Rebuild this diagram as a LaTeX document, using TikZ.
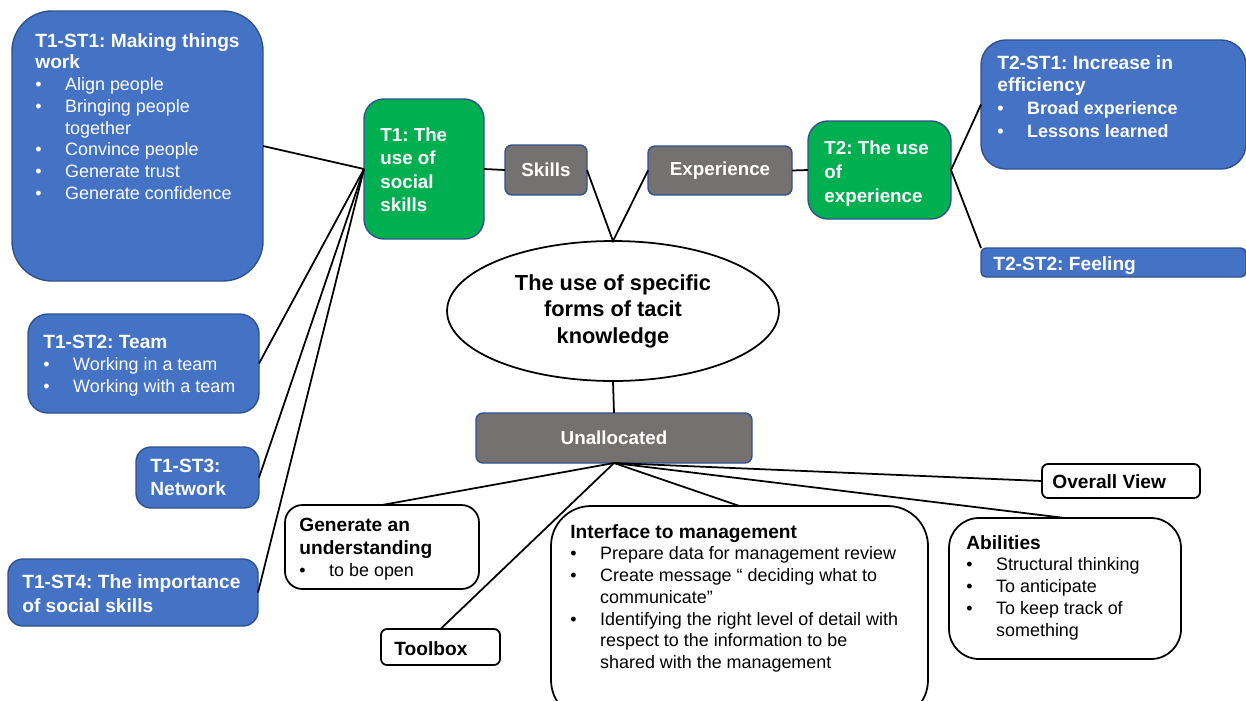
\documentclass[tikz,border=0pt]{standalone}
\usepackage{fontspec}
\setmainfont{Liberation Sans}
\usetikzlibrary{fit,shapes.geometric}
\definecolor{boxblue}{HTML}{4472C4}
\definecolor{edgeblue}{HTML}{2F528F}
\definecolor{boxgreen}{HTML}{00B050}
\definecolor{boxgrey}{HTML}{767171}
\newcommand{\bul}{\makebox[17pt][l]{\textbullet}}
\newcommand{\ind}{\hspace*{17pt}}
\newcommand{\hd}[1]{{\fontsize{10.9pt}{\baselineskip}\selectfont\bfseries #1}}
\frenchspacing
\begin{document}
\begin{tikzpicture}[x=0.02cm,y=-0.02cm,
 box/.style={inner sep=0,outer sep=0,line width=0.8pt},
 bluebox/.style={box,draw=edgeblue,fill=boxblue},
 greenbox/.style={box,draw=edgeblue,fill=boxgreen},
 greybox/.style={box,draw=edgeblue,fill=boxgrey,rounded corners=0.14cm},
 greytxt/.style={inner sep=0,text=white,font=\fontsize{10.7pt}{13pt}\selectfont\bfseries},
 whitebox/.style={box,draw=black,line width=1pt,fill=white},
 txt/.style={inner sep=0,anchor=north west,align=left,font=\fontsize{10.2pt}{12.35pt}\selectfont},
 wtxt/.style={txt,text=white},
 link/.style={line width=1pt}]
\useasboundingbox (0,0) rectangle (1246,700);
\clip (0,0) rectangle (1246,700);
\node[bluebox,rounded corners=0.8cm,fit={(12,11) (263,281)}] (st1) {};
\node[wtxt] (st1txt) at (35,33) {\hd{T1-ST1: Making things}\\\hd{work}\\\bul Align people\\\bul Bringing people\\\ind together\\\bul Convince people\\\bul Generate trust\\\bul Generate confidence};
\node[bluebox,rounded corners=0.4cm,fit={(28,314) (259,413)}] (st2) {};
\node[wtxt,font=\fontsize{10.2pt}{12.5pt}\selectfont] (st2txt) at (43,335) {\hd{T1-ST2: Team}\\\bul Working in a team\\\bul Working with a team};
\node[bluebox,rounded corners=0.3cm,fit={(136,447) (259,508)}] (st3) {};
\node[wtxt,font=\fontsize{10.9pt}{13.1pt}\selectfont\bfseries] (st3txt) at (150,459) {T1-ST3:\\Network};
\node[bluebox,rounded corners=0.3cm,fit={(8,559) (258,626)}] (st4) {};
\node[wtxt,font=\fontsize{10.9pt}{13.6pt}\selectfont\bfseries] (st4txt) at (22,574) {T1-ST4: The importance\\of social skills};
\node[greenbox,rounded corners=0.4cm,fit={(364,99) (484,239)}] (t1) {};
\node[wtxt,font=\fontsize{10.7pt}{13.1pt}\selectfont\bfseries] (t1txt) at (380,128) {T1: The\\use of\\social\\skills};
\node[greybox,fit={(505,145) (587,195)}] (skills) {};
\node[greytxt] (skillstxt) at (skills.center) {Skills};
\node[greybox,fit={(648,146) (792,195)}] (exper) {};
\node[greytxt] (expertxt) at (exper.center) {Experience};
\node[greenbox,rounded corners=0.4cm,fit={(808,121) (951,219)}] (t2) {};
\node[wtxt,font=\fontsize{10.7pt}{13.4pt}\selectfont\bfseries] (t2txt) at (824,141) {T2: The use\\of\\experience};
\node[bluebox,rounded corners=0.5cm,fit={(981,40) (1246,169)}] (t2st1) {};
\node[wtxt,font=\fontsize{10.2pt}{12.9pt}\selectfont] (t2st1txt) at (997,55) {\hd{T2-ST1: Increase in}\\\hd{efficiency}\\\textbf{\bul Broad experience}\\\textbf{\bul Lessons learned}};
\node[bluebox,rounded corners=0.1cm,fit={(981,248) (1246,277)}] (t2st2) {};
\node[wtxt,font=\fontsize{10.9pt}{13pt}\selectfont\bfseries] (t2st2txt) at (993,256) {T2-ST2: Feeling};
\node[draw,ellipse,line width=1pt,fill=white,minimum width=6.64cm,minimum height=2.8cm,inner sep=0,outer sep=0,align=center,font=\fontsize{12.4pt}{15.1pt}\selectfont\bfseries] (core) at (613,311) {The use of specific\\forms of tacit\\knowledge};
\node[greybox,fit={(476,413) (752,463)}] (unall) {};
\node[greytxt] (unalltxt) at (unall.center) {Unallocated};
\node[whitebox,rounded corners=0.35cm,fit={(285,505) (479,589)}] (gen) {};
\node[txt,font=\fontsize{10.2pt}{12.8pt}\selectfont] (gentxt) at (299,518) {\hd{Generate an}\\\hd{understanding}\\\bul to be open};
\node[whitebox,rounded corners=0.12cm,fit={(381,629) (500,665)}] (tool) {};
\node[txt] (tooltxt) at (394,641) {\hd{Toolbox}};
\node[whitebox,rounded corners=0.8cm,fit={(551,506) (928,720)}] (iface) {};
\node[txt] (ifacetxt) at (570,524) {\hd{Interface to management}\\\bul Prepare data for management review\\\bul Create message “ deciding what to\\\ind communicate”\\\bul Identifying the right level of detail with\\\ind respect to the information to be\\\ind shared with the management};
\node[whitebox,rounded corners=0.6cm,fit={(949,518) (1181,659)}] (abil) {};
\node[txt] (abiltxt) at (966,535) {\hd{Abilities}\\\bul Structural thinking\\\bul To anticipate\\\bul To keep track of\\\ind something};
\node[whitebox,rounded corners=0.12cm,fit={(1042,464) (1200,498)}] (over) {};
\node[txt] (overtxt) at (1052,474) {\hd{Overall View}};
\draw[link] (t1.west) -- (st1.east);
\draw[link] (t1.west) -- (st2.east);
\draw[link] (t1.west) -- (st3.east);
\draw[link] (t1.west) -- (st4.east);
\draw[link] (t1.east) -- (skills.west);
\draw[link] (skills.east) -- (core.north) -- (exper.west);
\draw[link] (exper.east) -- (t2.west);
\draw[link] (t2.east) -- (t2st1.west);
\draw[link] (t2.east) -- (t2st2.north west);
\draw[link] (core.south) -- (unall.north);
\draw[link] (unall.south) -- (gen.north);
\draw[link] (unall.south) -- (tool.north);
\draw[link] (unall.south) -- (iface.north);
\draw[link] (unall.south) -- (over.west);
\draw[link] (unall.south) -- (abil.north);
\end{tikzpicture}
\end{document}
